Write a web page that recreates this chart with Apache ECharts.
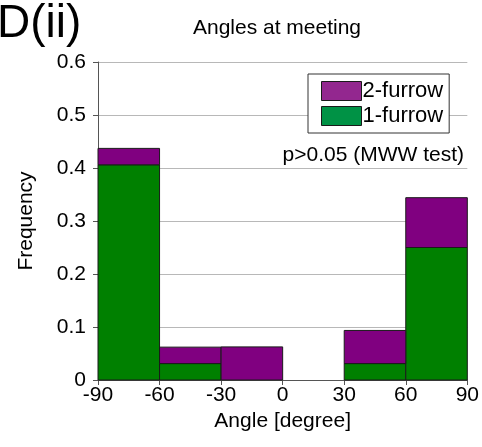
<!DOCTYPE html>
<html><head><meta charset="utf-8">
<script src="https://cdn.jsdelivr.net/npm/echarts@6/dist/echarts.min.js"></script>
<style>html,body{margin:0;padding:0;background:#fff}#c{width:482px;height:447px}</style>
</head><body><div id="c"></div>
<script>
var binStart = [-90, -60, -30, 0, 30, 60];
var binEnd = [-60, -30, 0, 30, 60, 90];
var oneFurrow = [0.406, 0.031, 0, 0, 0.031, 0.25];
var twoFurrow = [0.031, 0.031, 0.0625, 0, 0.0625, 0.094];
var xTicks = [-90, -60, -30, 0, 30, 60, 90];
var yTicks = [0, 0.1, 0.2, 0.3, 0.4, 0.5, 0.6];

var FONT = 'Liberation Sans, Arial, Helvetica, sans-serif';
var greenData = [], purpleData = [];
for (var i = 0; i < binStart.length; i++) {
  greenData.push([binStart[i], binEnd[i], 0, oneFurrow[i]]);
  purpleData.push([binStart[i], binEnd[i], oneFurrow[i], oneFurrow[i] + twoFurrow[i]]);
}
function rectItem(color) {
  return function (params, api) {
    var a = api.coord([api.value(0), api.value(2)]);
    var b = api.coord([api.value(1), api.value(3)]);
    if (api.value(3) - api.value(2) <= 0) return null;
    return {
      type: 'rect',
      shape: { x: a[0], y: b[1], width: b[0] - a[0], height: a[1] - b[1] },
      style: { fill: color, stroke: '#1a1a1a', lineWidth: 1 }
    };
  };
}
var chart = echarts.init(document.getElementById('c'), null, { renderer: 'canvas' });
chart.setOption({
  animation: false,
  backgroundColor: '#fff',
  textStyle: { fontFamily: FONT },
  title: [
    { text: 'D(ii)', left: -3, top: 1, padding: 0, textStyle: { fontSize: 46, lineHeight: 46, fontWeight: 'normal', color: '#000', fontFamily: FONT } },
    { text: 'Angles at meeting', left: 277, top: 18, padding: 0, textAlign: 'center', textStyle: { fontSize: 21, lineHeight: 21, fontWeight: 'normal', color: '#000', fontFamily: FONT } },
    { text: 'p>0.05 (MWW test)', right: 18, top: 145, padding: 0, textStyle: { fontSize: 21, lineHeight: 21, fontWeight: 'normal', color: '#000', fontFamily: FONT } }
  ],
  grid: { left: 98, right: 13, top: 62, bottom: 67 },
  legend: {
    orient: 'vertical',
    left: 308, top: 74,
    padding: [6, 6, 6, 13],
    itemWidth: 40, itemHeight: 19, itemGap: 3,
    backgroundColor: '#fff',
    borderColor: '#333', borderWidth: 1,
    textStyle: { fontSize: 22, lineHeight: 22, color: '#000', fontFamily: FONT, padding: [0, 0, 0, -4] },
    data: [
      { name: '2-furrow', icon: 'rect', itemStyle: { color: '#93278F', borderColor: '#1a1a1a', borderWidth: 1 } },
      { name: '1-furrow', icon: 'rect', itemStyle: { color: '#009245', borderColor: '#1a1a1a', borderWidth: 1 } }
    ]
  },
  xAxis: {
    type: 'value', min: -90, max: 90, interval: 30,
    name: 'Angle [degree]', nameLocation: 'middle', nameGap: 30,
    nameTextStyle: { fontSize: 21, color: '#000', fontFamily: FONT },
    axisLine: { show: true, onZero: false, lineStyle: { color: '#555', width: 1 } },
    axisTick: { show: true, length: 5, lineStyle: { color: '#555' } },
    axisLabel: { fontSize: 21, color: '#000', margin: 5, fontFamily: FONT,
      formatter: function (v) { return xTicks.indexOf(v) >= 0 ? String(v) : ''; } },
    splitLine: { show: false }
  },
  yAxis: {
    type: 'value', min: 0, max: 0.6, interval: 0.1,
    name: 'Frequency', nameLocation: 'middle', nameGap: 61,
    nameTextStyle: { fontSize: 21, color: '#000', fontFamily: FONT },
    axisLine: { show: true, onZero: false, lineStyle: { color: '#555', width: 1 } },
    axisTick: { show: true, length: 5, lineStyle: { color: '#555' } },
    axisLabel: { fontSize: 21, color: '#000', margin: 12, fontFamily: FONT,
      formatter: function (v) { var t = yTicks.filter(function (y) { return Math.abs(y - v) < 1e-9; }); return t.length ? String(t[0]) : ''; } },
    splitLine: { show: true, lineStyle: { color: '#b8b8b8', width: 1.2 } }
  },
  series: [
    { name: '1-furrow', type: 'custom', renderItem: rectItem('#008000'), data: greenData, encode: { x: [0, 1], y: [2, 3] }, z: 3 },
    { name: '2-furrow', type: 'custom', renderItem: rectItem('#800080'), data: purpleData, encode: { x: [0, 1], y: [2, 3] }, z: 3 }
  ]
});
</script></body></html>
